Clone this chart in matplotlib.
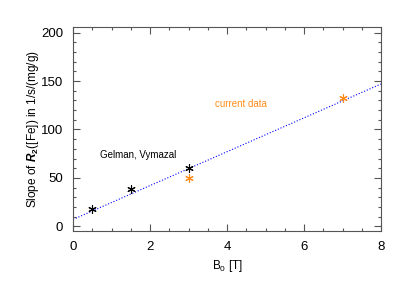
import numpy as np
import matplotlib.pyplot as plt
from matplotlib.ticker import MultipleLocator

plt.rcParams['font.family'] = ['Liberation Sans', 'DejaVu Sans']
plt.rcParams['mathtext.fontset'] = 'custom'
plt.rcParams['mathtext.rm'] = 'Liberation Sans'
plt.rcParams['mathtext.bf'] = 'Liberation Sans:bold'
plt.rcParams['mathtext.it'] = 'Liberation Sans:italic'
plt.rcParams['mathtext.bfit'] = 'Liberation Sans:bold:italic'

# literature (Gelman, Vymazal)
lit_b0 = [0.5, 1.5, 3.0]
lit_slope = [18, 39, 60]
# current data
cur_b0 = [3.0, 7.0]
cur_slope = [50, 133]
# fit line
fit_b0 = [0, 8]
fit_slope = [7, 147]

orange = '#ff8c1a'
star = (6, 2, 0)

fig = plt.figure(figsize=(4, 2.86), dpi=100)
ax = fig.add_axes([0.1825, 0.192, 0.77, 0.714])

ax.plot(fit_b0, fit_slope, color='blue', ls=':', lw=0.8)
ax.plot(lit_b0, lit_slope, ls='none', marker=star, ms=6, mew=0.8, color='black')
ax.plot(cur_b0, cur_slope, ls='none', marker=star, ms=6, mew=0.8, color=orange)

ax.text(0.7, 71, 'Gelman, Vymazal', fontsize=7, color='black')
ax.text(3.7, 123, 'current data', fontsize=7, color=orange)

ax.set_xlim(0, 8)
ax.set_ylim(-5, 206)
ax.xaxis.set_major_locator(MultipleLocator(2))
ax.xaxis.set_minor_locator(MultipleLocator(0.5))
ax.yaxis.set_major_locator(MultipleLocator(50))
ax.yaxis.set_minor_locator(MultipleLocator(10))
ax.tick_params(which='both', direction='in', top=True, right=True, labelsize=9.5, color='#555555', width=0.8)
ax.tick_params(which='major', length=5, pad=7)
ax.tick_params(which='minor', length=2.5)
for s in ax.spines.values():
    s.set_color('#555555')
    s.set_linewidth(0.8)

ax.set_xlabel(r'B$_0$ [T]', fontsize=8.5)
ax.set_ylabel(r'Slope of $\mathbfit{R}_\mathbf{2}$([Fe]) in 1/s/(mg/g)', fontsize=8.5, labelpad=0)

fig.savefig('out.png', dpi=100)
